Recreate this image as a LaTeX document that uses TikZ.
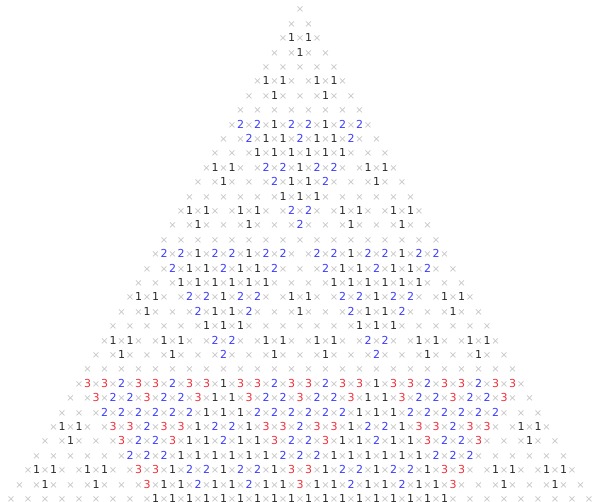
\documentclass[tikz,border=0pt]{standalone}
\usepackage{fontspec}
\setmainfont{DejaVu Sans}
\definecolor{crossgray}{HTML}{C4C4C4}
\definecolor{numone}{HTML}{2A2A2A}
\definecolor{numtwo}{HTML}{3C3CFF}
\definecolor{numthree}{HTML}{F0303C}
\begin{document}
\begin{tikzpicture}[x=1pt,y=1pt,
  cell/.style={inner sep=0pt, text height=8pt, text depth=0pt, anchor=center},
  cross/.style={cell, text=crossgray, font=\fontsize{10}{12}\selectfont},
  num/.style={cell, font=\fontsize{11}{13}\selectfont}]
\useasboundingbox (0,0) rectangle (594,502);
\clip (0,0) rectangle (594,502);
\foreach \n in {0,...,34}{
  \pgfmathsetmacro\yy{502-9-14.4*\n}
  \foreach \k in {0,...,\n}{
    \pgfmathsetmacro\xx{300+17*(\k-\n/2)}
    \node[cross] (c-\n-\k) at (\xx,\yy) {×};
  }
  \ifnum\n>0
  \foreach \k in {1,...,\n}{
    \pgfmathtruncatemacro\v{div(\n+1,3)+div(\n+1,9)+div(\n+1,27)-div(\k,3)-div(\k,9)-div(\k,27)-div(\n+1-\k,3)-div(\n+1-\k,9)-div(\n+1-\k,27)}
    \ifnum\v>0
      \ifcase\v\or\def\numcol{numone}\or\def\numcol{numtwo}\or\def\numcol{numthree}\fi
      \pgfmathsetmacro\xx{300+17*(\k-0.5-\n/2)}
      \node[num, text=\numcol] (v-\n-\k) at (\xx,\yy) {\v};
    \fi
  }
  \fi
}
\end{tikzpicture}
\end{document}
